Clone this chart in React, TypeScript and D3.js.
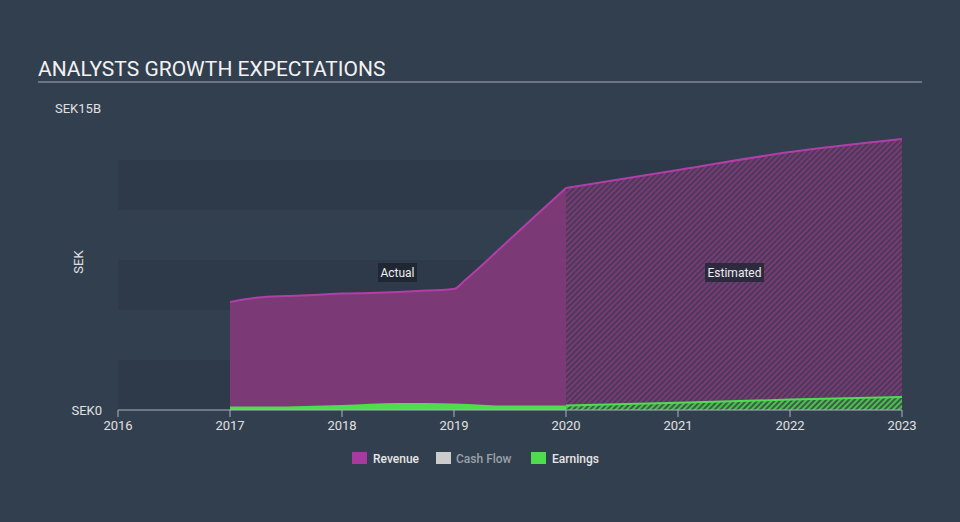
import React from "react";
import * as d3 from "d3";

const revenueActualYears = [2017.0, 2017.25, 2017.5, 2017.75, 2018.0, 2018.25, 2018.5, 2018.75, 2019.0, 2019.1, 2019.5, 2019.75, 2020.0];
const revenueActual = [5.4, 5.62, 5.7, 5.75, 5.82, 5.85, 5.9, 5.97, 6.05, 6.5, 8.54, 9.82, 11.1];
const revenueEstYears = [2020.0, 2021.0, 2022.0, 2023.0];
const revenueEst = [11.1, 12.0, 12.9, 13.55];

const earningsActualYears = [2017.0, 2017.5, 2018.0, 2018.5, 2019.0, 2019.5, 2020.0];
const earningsActual = [0.17, 0.18, 0.25, 0.35, 0.33, 0.22, 0.22];
const earningsEstYears = [2020.0, 2021.0, 2022.0, 2023.0];
const earningsEst = [0.22, 0.36, 0.52, 0.65];

const xTicks = [2016, 2017, 2018, 2019, 2020, 2021, 2022, 2023];
const yBands = [0, 2.5, 5, 7.5, 10, 12.5];

const W = 960;
const H = 522;
const BG = "#323f4f";
const REV_FILL = "#7b3a75";
const REV_LINE = "#b23ea8";
const REV_LEGEND = "#a8399d";
const EARN = "#4fdc4f";
const FONT = "Roboto, 'Open Sans', sans-serif";

export default function App() {
  const x = d3.scaleLinear().domain([2016, 2023]).range([118, 902]);
  const y = d3.scaleLinear().domain([0, 15]).range([410, 110]);

  const toPts = (xs: number[], vs: number[]) => xs.map((t, i) => [t, vs[i]] as [number, number]);

  const area = d3
    .area<[number, number]>()
    .x((d) => x(d[0]))
    .y0(y(0))
    .y1((d) => y(d[1]))
    .curve(d3.curveMonotoneX);
  const line = d3
    .line<[number, number]>()
    .x((d) => x(d[0]))
    .y((d) => y(d[1]))
    .curve(d3.curveMonotoneX);

  const ra = toPts(revenueActualYears, revenueActual);
  const re = toPts(revenueEstYears, revenueEst);
  const ea = toPts(earningsActualYears, earningsActual);
  const ee = toPts(earningsEstYears, earningsEst);

  return (
    <svg width={W} height={H} style={{ position: "absolute", left: 0, top: 0, display: "block" }} fontFamily={FONT}>
      <defs>
        <pattern id="hatchRev" patternUnits="userSpaceOnUse" width="4" height="4" patternTransform="rotate(45)">
          <rect width="4" height="4" fill="#4a3a5a" />
          <rect width="2" height="4" fill="#7a3a74" />
        </pattern>
        <pattern id="hatchEarn" patternUnits="userSpaceOnUse" width="4" height="4" patternTransform="rotate(45)">
          <rect width="4" height="4" fill="#3c5c4a" />
          <rect width="2" height="4" fill="#4cc04c" />
        </pattern>
      </defs>
      <rect x={0} y={0} width={W} height={H} fill={BG} />

      {/* title */}
      <text x={38} y={76} fill="#f2f2f2" fontSize={21} fontFamily={FONT}>
        ANALYSTS GROWTH EXPECTATIONS
      </text>
      <line x1={38} x2={922} y1={82} y2={82} stroke="#a3adb8" strokeWidth={1} />

      {/* bands */}
      {yBands.map((b, i) =>
        i % 2 === 0 ? (
          <rect key={b} x={x(2016)} y={y(b + 2.5)} width={x(2023) - x(2016)} height={y(b) - y(b + 2.5)} fill="#000" opacity={0.07} />
        ) : null
      )}

      {/* y labels */}
      <text x={55} y={113} fill="#e0e0e0" fontSize={13}>
        SEK15B
      </text>
      <text x={102} y={415} fill="#e0e0e0" fontSize={13} textAnchor="end">
        SEK0
      </text>
      <text transform={`translate(83,262) rotate(-90)`} fill="#e0e0e0" fontSize={13} textAnchor="middle">
        SEK
      </text>

      {/* revenue */}
      <path d={area(ra) ?? ""} fill={REV_FILL} />
      <path d={area(re) ?? ""} fill="url(#hatchRev)" />
      <path d={line(ra) ?? ""} fill="none" stroke={REV_LINE} strokeWidth={2} />
      <path d={line(re) ?? ""} fill="none" stroke={REV_LINE} strokeWidth={2} />

      {/* earnings */}
      <path d={area(ea) ?? ""} fill={EARN} />
      <path d={area(ee) ?? ""} fill="url(#hatchEarn)" />
      <path d={line(ee) ?? ""} fill="none" stroke={EARN} strokeWidth={2} />

      {/* x axis */}
      <line x1={x(2016)} x2={x(2023)} y1={y(0)} y2={y(0)} stroke="#aab4bf" strokeWidth={1} />
      {xTicks.map((t) => (
        <g key={t}>
          <line x1={x(t)} x2={x(t)} y1={y(0)} y2={y(0) + 7} stroke="#aab4bf" strokeWidth={1} />
          <text x={x(t)} y={430} fill="#e0e0e0" fontSize={13} textAnchor="middle">
            {t}
          </text>
        </g>
      ))}

      {/* Actual / Estimated labels */}
      <rect x={378} y={263} width={39} height={19} fill="#1c2530" opacity={0.85} />
      <text x={397.5} y={276.5} fill="#eeeeee" fontSize={12} textAnchor="middle">
        Actual
      </text>
      <rect x={705} y={263} width={59} height={19} fill="#1c2530" opacity={0.75} />
      <text x={734.5} y={276.5} fill="#eeeeee" fontSize={12} textAnchor="middle">
        Estimated
      </text>

      {/* legend */}
      <rect x={352} y={452} width={15} height={12} fill={REV_LEGEND} />
      <text x={373} y={462.5} fill="#e6e6e6" fontSize={12} fontWeight={500}>
        Revenue
      </text>
      <rect x={436} y={452} width={15} height={12} fill="#cccccc" />
      <text x={456} y={462.5} fill="#9aa1a8" fontSize={12} fontWeight={500}>
        Cash Flow
      </text>
      <rect x={531} y={452} width={15} height={12} fill={EARN} />
      <text x={552} y={462.5} fill="#e6e6e6" fontSize={12} fontWeight={500}>
        Earnings
      </text>
    </svg>
  );
}
